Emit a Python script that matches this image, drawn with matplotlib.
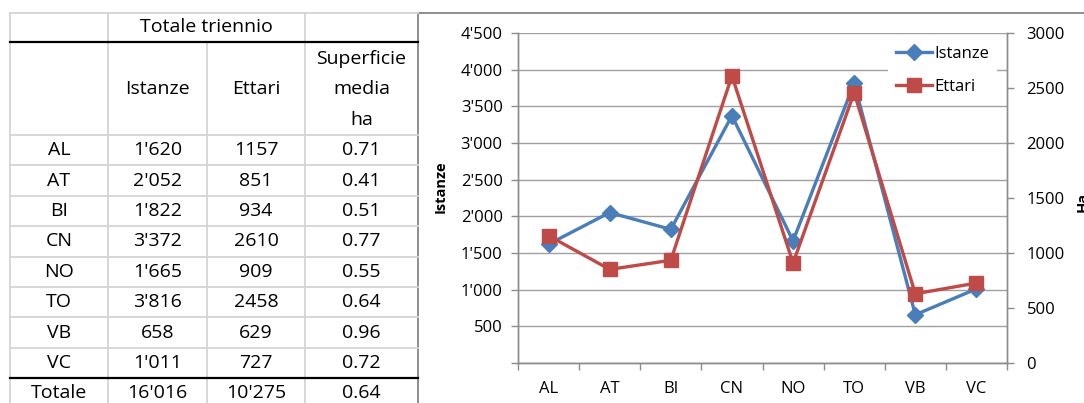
import numpy as np
import matplotlib
matplotlib.use("Agg")
import matplotlib.pyplot as plt
from matplotlib.lines import Line2D
from matplotlib.patches import Rectangle
from matplotlib.ticker import FuncFormatter, MultipleLocator

plt.rcParams['font.family'] = ['Open Sans', 'DejaVu Sans']

# dati per provincia (totale triennio)
province = ['AL', 'AT', 'BI', 'CN', 'NO', 'TO', 'VB', 'VC']
istanze = [1620, 2052, 1822, 3372, 1665, 3816, 658, 1011]
ettari = [1157, 851, 934, 2610, 909, 2458, 629, 727]
sup_media = [0.71, 0.41, 0.51, 0.77, 0.55, 0.64, 0.96, 0.72]
tot_istanze = 16016
tot_ettari = 10275
tot_sup_media = 0.64

W, H = 1084, 403
fig = plt.figure(figsize=(W / 100, H / 100), dpi=100)


def fx(x):
    return x / W


def fy(y):
    return 1 - y / H


def sep(v):
    return f"{v:,}".replace(",", "'")


# ---- tabella a sinistra ----
grid_c = '#d4d4d4'
cols = [10, 108, 207, 305, 418]
rows = [13, 42, 135] + [135 + 30.4 * (i + 1) for i in range(len(province))] + [410]
fs_tab = 14


def hline(y, x0, x1, c=grid_c, lw=1.3):
    fig.add_artist(Line2D([fx(x0), fx(x1)], [fy(y), fy(y)], color=c, lw=lw))


def vline(x, y0, y1, c=grid_c, lw=1.3):
    fig.add_artist(Line2D([fx(x), fx(x)], [fy(y0), fy(y1)], color=c, lw=lw))


def cell(txt, ci, y, **kw):
    xc = (cols[ci] + cols[ci + 1]) / 2
    fig.text(fx(xc), fy(y), txt, ha='center', va='center', fontsize=fs_tab, **kw)


hline(13, 10, 418)
for y in rows[2:-1]:
    hline(y, 10, 418)
for x in [10, 108, 305]:
    vline(x, 13, 410)
vline(207, 42, 410)
hline(42, 10, 418, c='black', lw=1.6)
hline(rows[-2], 10, 418, c='black', lw=1.6)

fig.text(fx((cols[1] + cols[3]) / 2), fy(27), 'Totale triennio', ha='center', va='center', fontsize=fs_tab)
cell('Istanze', 1, 89)
cell('Ettari', 2, 89)
for txt, y in zip(['Superficie', 'media', 'ha'], [59, 89, 120]):
    cell(txt, 3, y)

for i, p in enumerate(province):
    yc = (rows[2 + i] + rows[3 + i]) / 2
    cell(p, 0, yc)
    cell(sep(istanze[i]), 1, yc)
    cell(str(ettari[i]), 2, yc)
    cell(f"{sup_media[i]:.2f}", 3, yc)

yc = rows[-2] + 15
cell('Totale', 0, yc)
cell(sep(tot_istanze), 1, yc)
cell(sep(tot_ettari), 2, yc)
cell(f"{tot_sup_media:.2f}", 3, yc)

# cornice del grafico
fig.add_artist(Rectangle((fx(418), fy(420)), fx(700), fy(13) - fy(420),
                         fill=False, edgecolor='#868686', lw=1.3))

# ---- grafico ----
ax_c = '#8c8c8c'
fs_ax = 12
ax = fig.add_axes([fx(518), fy(363), fx(1007 - 518), fy(33) - fy(363)])
ax2 = ax.twinx()

x = np.arange(len(province))
blue = '#4a7ebb'
red = '#be4b48'
l1, = ax.plot(x, istanze, color=blue, lw=2.4, marker='D', ms=8.2, label='Istanze', zorder=3)
l2, = ax2.plot(x, ettari, color=red, lw=2.4, marker='s', ms=10.5, label='Ettari', zorder=3)

ax.set_xlim(-0.5, len(province) - 0.5)
ax.set_ylim(0, 4500)
ax2.set_ylim(0, 3000)
ax.yaxis.set_major_locator(MultipleLocator(500))
ax2.yaxis.set_major_locator(MultipleLocator(500))
ax.yaxis.set_major_formatter(FuncFormatter(lambda v, pos: '' if v == 0 else sep(int(v))))
ax.yaxis.grid(True, color='#a0a0a0', lw=1.0)
ax.set_axisbelow(True)

ax.set_xticks(x)
ax.set_xticklabels(province)
ax.set_xticks(np.arange(-0.5, len(province)), minor=True)
ax.tick_params(axis='x', which='major', length=0, pad=13, labelsize=fs_ax)
ax.tick_params(axis='x', which='minor', length=5, color=ax_c, width=1)
ax.tick_params(axis='y', length=5, color=ax_c, width=1, labelsize=fs_ax, pad=6)
ax2.tick_params(axis='y', length=5, color=ax_c, width=1, labelsize=fs_ax, pad=9)

for a in (ax, ax2):
    a.spines['top'].set_visible(False)
    for s in ('left', 'right', 'bottom'):
        a.spines[s].set_color(ax_c)
        a.spines[s].set_linewidth(1.0)

fig.text(fx(441), fy(187), 'Istanze', rotation=90, ha='center', va='center',
         fontsize=10.5, fontweight='bold')
fig.text(fx(1083), fy(202), 'Ha', rotation=90, ha='center', va='center',
         fontsize=10.5, fontweight='bold')

leg = ax2.legend(handles=[l1, l2], loc='upper left',
                 bbox_to_anchor=(fx(888), fy(38)), bbox_transform=fig.transFigure,
                 frameon=True, facecolor='white', edgecolor='none', framealpha=1,
                 fontsize=12, handlelength=2.2, handletextpad=0.15,
                 labelspacing=1.05, borderpad=0.45, borderaxespad=0, fancybox=False)
ax2.set_zorder(ax.get_zorder() + 1)
ax.patch.set_visible(False)

fig.savefig('out.png', dpi=100)
